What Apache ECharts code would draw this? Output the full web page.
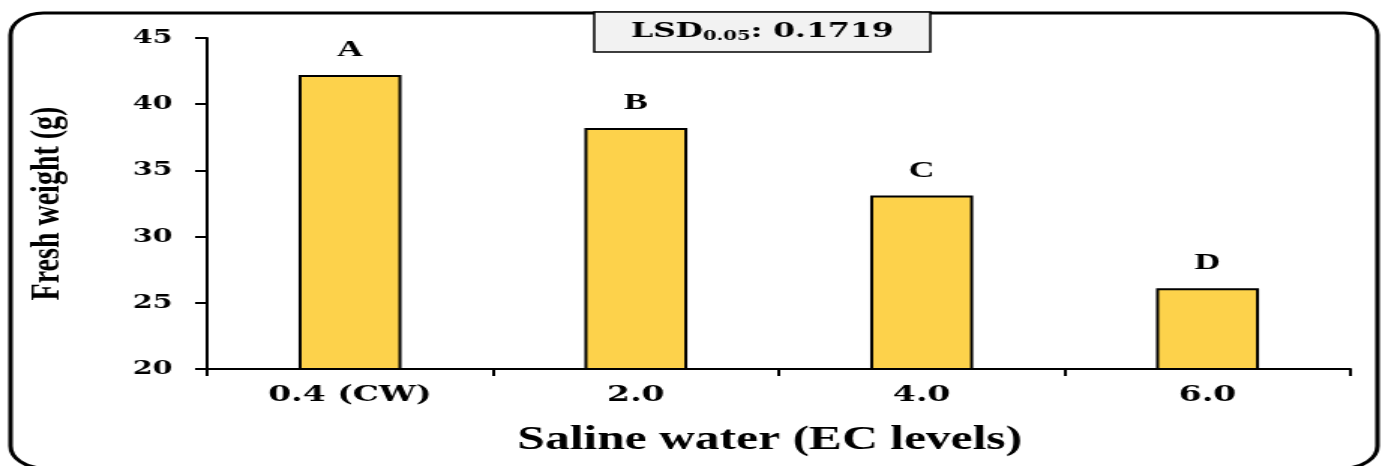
<!DOCTYPE html>
<html><head><meta charset="utf-8">
<script src="https://cdn.jsdelivr.net/npm/echarts@6/dist/echarts.min.js"></script>
<style>
html,body{margin:0;padding:0;background:#fff;overflow:hidden}
#wrap{width:1382px;height:466px;overflow:hidden}
#c{width:921px;height:466px;transform:scaleX(1.5005);transform-origin:0 0}
</style>
</head><body><div id="wrap"><div id="c"></div></div>
<script>
const categories = ['0.4 (CW)', '2.0', '4.0', '6.0'];
const freshWeight = [42.2, 38.2, 33.1, 26.1];
const groupLetters = ['A', 'B', 'C', 'D'];
const yTicks = [20, 25, 30, 35, 40, 45];

const chart = echarts.init(document.getElementById('c'));
const wide = '"DejaVu Serif", serif';
const times = '"Liberation Serif", "Times New Roman", serif';
chart.setOption({
  animation: false,
  backgroundColor: '#fff',
  grid: {left: 138, right: 21, top: 38, bottom: 97},
  xAxis: {
    type: 'category', data: categories,
    axisLine: {lineStyle: {color: '#000', width: 2}},
    axisTick: {show: true, length: 7, lineStyle: {color: '#000', width: 2}},
    axisLabel: {color: '#000', fontFamily: wide, fontWeight: 'bold', fontSize: 22, margin: 15},
    name: 'Saline water (EC levels)', nameLocation: 'middle', nameGap: 55,
    nameTextStyle: {color: '#000', fontFamily: times, fontWeight: 'bold', fontSize: 33, padding: [0, 12, 0, 0]}
  },
  yAxis: {
    type: 'value', min: yTicks[0], max: yTicks[yTicks.length - 1], interval: 5,
    axisLine: {show: true, lineStyle: {color: '#000', width: 2}},
    axisTick: {show: true, length: 8, lineStyle: {color: '#000', width: 2}},
    splitLine: {show: false},
    axisLabel: {color: '#000', fontFamily: wide, fontWeight: 'bold', fontSize: 19, margin: 23},
    name: 'Fresh weight (g)', nameLocation: 'middle', nameGap: 92, nameRotate: 90,
    nameTextStyle: {color: '#000', fontFamily: times, fontWeight: 'bold', fontSize: 28}
  },
  series: [{
    type: 'bar', data: freshWeight, barWidth: '36%',
    itemStyle: {color: '#FDD24B', borderColor: '#000', borderWidth: 2},
    label: {
      show: true, position: 'top', distance: 13,
      formatter: p => groupLetters[p.dataIndex],
      color: '#000', fontFamily: times, fontWeight: 'bold', fontSize: 24
    }
  }],
  graphic: [
    {type: 'rect', shape: {x: 7, y: 13, width: 911, height: 455, r: 22},
     style: {fill: 'none', stroke: '#000', lineWidth: 3}, silent: true},
    {type: 'rect', shape: {x: 396, y: 12, width: 224, height: 40},
     style: {fill: '#f2f2f2', stroke: '#000', lineWidth: 1.5}},
    {type: 'text', x: 508, y: 32,
     style: {
       text: '{a|LSD}{s|0.05}{a|: 0.1719}', align: 'center', verticalAlign: 'middle',
       rich: {
         a: {fontFamily: wide, fontWeight: 'bold', fontSize: 21, fill: '#000'},
         s: {fontFamily: wide, fontWeight: 'bold', fontSize: 13, fill: '#000', padding: [10, 0, 0, 0]}
       }
     }}
  ]
});
</script></body></html>
